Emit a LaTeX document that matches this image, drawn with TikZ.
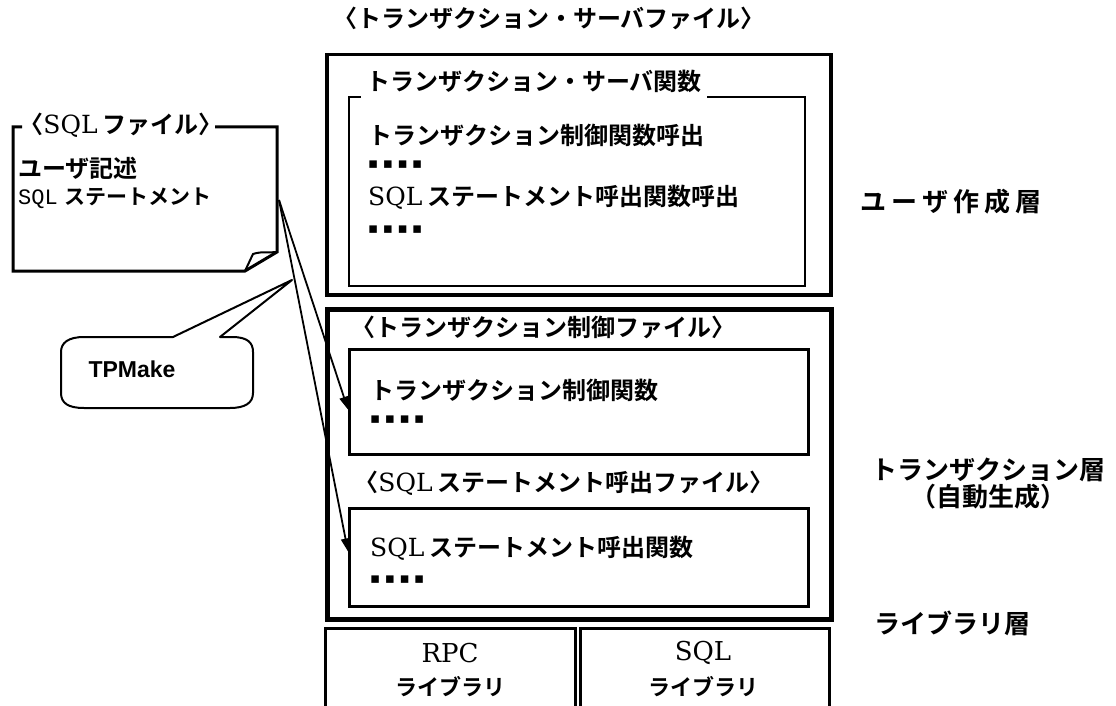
\documentclass[tikz,border=0pt]{standalone}
\usepackage{fontspec}
\setmainfont{Noto Sans CJK JP}[BoldFont={Noto Sans CJK JP Bold}]
\newfontfamily\serifL{DejaVu Serif}
\newfontfamily\monoL{Liberation Mono}
\newfontfamily\arialL{Liberation Sans}
\newfontfamily\symL{DejaVu Sans}
\usetikzlibrary{arrows.meta,calc}
\newcommand{\fsz}[1]{\fontsize{#1}{#1}\selectfont}
\newcommand{\lab}{\kern-0.45em〈}
\newcommand{\rab}{〉\kern-0.45em}
\newcommand{\sqlw}{{\mdseries\serifL\fsz{25}SQL}\hspace{5pt}}
\newcommand{\fourdots}{{\symL\fsz{15}▪\hspace{4.5pt}▪\hspace{4.5pt}▪\hspace{4.5pt}▪}}
\begin{document}
\begin{tikzpicture}[x=1pt,y=-1pt,
  jp/.style={font=\fsz{24}\bfseries, inner sep=0pt, anchor=west},
  big/.style={font=\fontsize{26}{27}\selectfont\bfseries, inner sep=0pt, align=center},
  panel/.style={draw, line width=#1, inner sep=0pt, anchor=north west},
  arr/.style={line width=1.8pt, -{Triangle[length=13pt,width=9pt]}},
  dots/.style={inner sep=0pt, anchor=west},
  serifnum/.style={font=\fsz{26}\serifL, inner sep=0pt}
]
\useasboundingbox (0,0) rectangle (1116,706);

% ---- user layer
\node[jp, anchor=center] (tsfile) at (549,18) {\lab トランザクション・サーバファイル\rab};
\node[panel=3.5pt, minimum width=504pt, minimum height=240pt] (userbox) at (325,53) {};
\node[panel=2pt, minimum width=456pt, minimum height=189pt] (tsfunc) at (348,96) {};
\node[jp, fill=white, inner xsep=5pt, inner ysep=8pt] (tsfunct) at (361,81) {トランザクション・サーバ関数};
\node[jp] (l1) at (368,135) {トランザクション制御関数呼出};
\node[dots] (d1) at (368,165) {\fourdots};
\node[jp] (l2) at (368,197) {\sqlw ステートメント呼出関数呼出};
\node[dots] (d2) at (368,230) {\fourdots};

% ---- transaction layer
\node[panel=4.5pt, minimum width=504pt, minimum height=310pt] (txbox) at (325,307) {};
\node[jp] (ctrlfile) at (362,327) {\lab トランザクション制御ファイル\rab};
\node[panel=3pt, minimum width=459pt, minimum height=105pt] (ctrlbox) at (348,348) {};
\node[jp] (ctrlt) at (370,390) {トランザクション制御関数};
\node[dots] (d3) at (370,420) {\fourdots};
\node[jp] (sqlfile) at (365,483) {\lab\sqlw ステートメント呼出ファイル\rab};
\node[panel=3pt, minimum width=459pt, minimum height=98pt] (sqlbox) at (348,507) {};
\node[jp] (sqlt) at (370,548) {\sqlw ステートメント呼出関数};
\node[dots] (d4) at (370,580) {\fourdots};

% ---- library layer
\draw[line width=3pt] (325,706) -- (325,628) -- (575,628) -- (575,706);
\draw[line width=3pt] (580,706) -- (580,628) -- (829,628) -- (829,706);
\node[serifnum] (rpc) at (450,653) {RPC};
\node[font=\fsz{22}\bfseries, inner sep=0pt] (rpclib) at (450,687) {ライブラリ};
\node[serifnum] (sqll) at (703,653) {SQL};
\node[font=\fsz{22}\bfseries, inner sep=0pt] (sqllib) at (703,687) {ライブラリ};

% ---- right labels
\node[big] (ulayer) at (951,202) {ユ\hspace{5pt}ー\hspace{5pt}ザ\hspace{5pt}作\hspace{5pt}成\hspace{5pt}層};
\node[big] (tlayer) at (988,484) {トランザクション層\\（自動生成）};
\node[big] (llayer) at (952,623) {ライブラリ層};

% ---- SQL file note
\draw[line width=3pt, line join=miter] (22,127) -- (13,127) -- (13,271) -- (245,271) -- (277,252) -- (277,127) -- (200,127);
\draw[line width=2pt, line join=round] (245,271) -- (253,254) .. controls (262,251) and (270,253) .. (277,252);
\node[jp, fill=white, inner xsep=3pt, inner ysep=2pt] (sqlnote) at (27,125) {\lab\sqlw ファイル\rab};
\node[jp] (userdesc) at (18,168) {ユーザ記述};
\node[jp, font=\fsz{21}\bfseries] (sqlstmt) at (18,198) {{\mdseries\monoL\fsz{22}SQL}\hspace{7pt}ステートメント};
\coordinate (noteR) at (279,200);

% ---- TPMake callout
\draw[line width=2pt, line join=round] (173,337) -- (292,280) -- (220,337) -- (232,337)
  .. controls (248,337) and (253,343) .. (253,352) -- (253,393)
  .. controls (253,403) and (245,408) .. (230,408) -- (84,408)
  .. controls (68,408) and (61,403) .. (61,393) -- (61,352)
  .. controls (61,343) and (68,337) .. (84,337) -- cycle;
\node[font=\arialL\bfseries\fsz{23}, inner sep=0pt] (tpmake) at (132,369) {TPMake};

% ---- arrows
\draw[arr] (noteR) -- ($(ctrlbox.north west)!0.57!(ctrlbox.south west)$);
\draw[arr] (noteR) -- ($(sqlbox.north west)!0.44!(sqlbox.south west)$);
\end{tikzpicture}
\end{document}
